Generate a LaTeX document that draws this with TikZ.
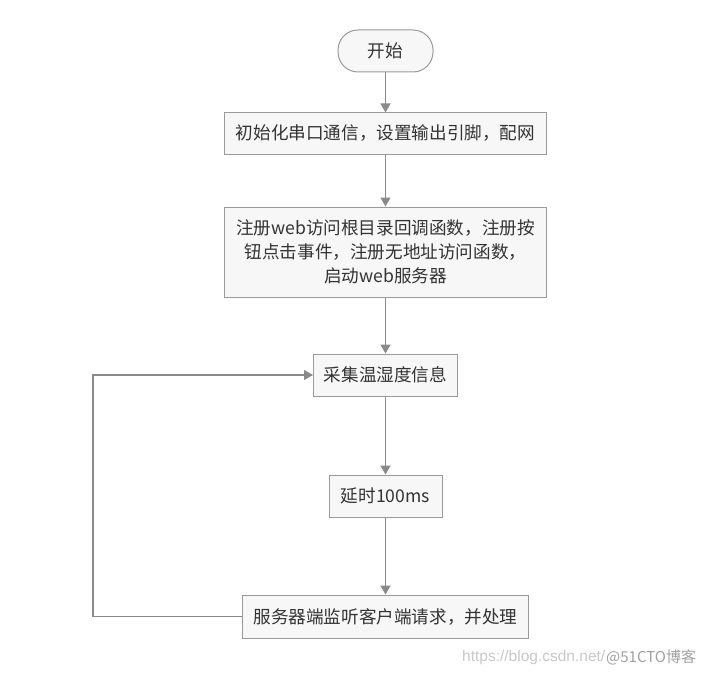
\documentclass[tikz,border=0pt]{standalone}
\usepackage{fontspec}
\setmainfont{Noto Sans CJK SC}
\usetikzlibrary{arrows.meta}
\definecolor{boxfill}{HTML}{F7F7F7}
\definecolor{boxline}{HTML}{9A9A9A}
\definecolor{txt}{HTML}{333333}
\definecolor{arr}{HTML}{8A8A8A}
\definecolor{wm}{HTML}{C8C8C8}
\tikzset{
  procbox/.style={draw=boxline, fill=boxfill, line width=1pt, text=txt, font=\fontsize{17.6}{24}\selectfont, align=center, inner sep=0pt},
  startbox/.style={procbox, rounded corners=20pt},
  flow/.style={draw=arr, line width=1.2pt, -{Triangle[length=9pt,width=10pt]}},
}
\begin{document}
\begin{tikzpicture}[x=1pt,y=-1pt]
\useasboundingbox (0,0) rectangle (714,674);
\node[startbox, minimum width=95pt, minimum height=42pt] (s) at (385.5,51) {开始};
\node[procbox, minimum width=322pt, minimum height=41pt] (b1) at (385.5,133.5) {初始化串口通信，设置输出引脚，配网};
\node[procbox, minimum width=322pt, minimum height=90pt] (b2) at (385.5,252) {注册web访问根目录回调函数，注册按\\钮点击事件，注册无地址访问函数，\\启动web服务器};
\node[procbox, minimum width=144pt, minimum height=42pt] (b3) at (385.5,375) {采集温湿度信息};
\node[procbox, minimum width=113pt, minimum height=42pt] (b4) at (385.5,496) {延时100ms};
\node[procbox, minimum width=286pt, minimum height=43pt] (b5) at (385.5,616.5) {服务器端监听客户端请求，并处理};
\coordinate (c1) at (93,616.5);
\coordinate (c2) at (93,375);
\draw[flow] (s) -- (b1);
\draw[flow] (b1) -- (b2);
\draw[flow] (b2) -- (b3);
\draw[flow] (b3) -- (b4);
\draw[flow] (b4) -- (b5);
\draw[flow] (b5.west) -- (c1) -- (c2) -- (b3.west);
\node[text=wm, font=\fontspec{Liberation Sans}\fontsize{15.5}{15.5}\selectfont, anchor=west, inner sep=0pt] (wm1) at (462,657) {https://blog.csdn.net/};
\node[text=wm!80!black, font=\fontsize{15}{15}\selectfont, anchor=west, inner sep=0pt] (wm2) at (606,657) {@51CTO博客};
\end{tikzpicture}
\end{document}
